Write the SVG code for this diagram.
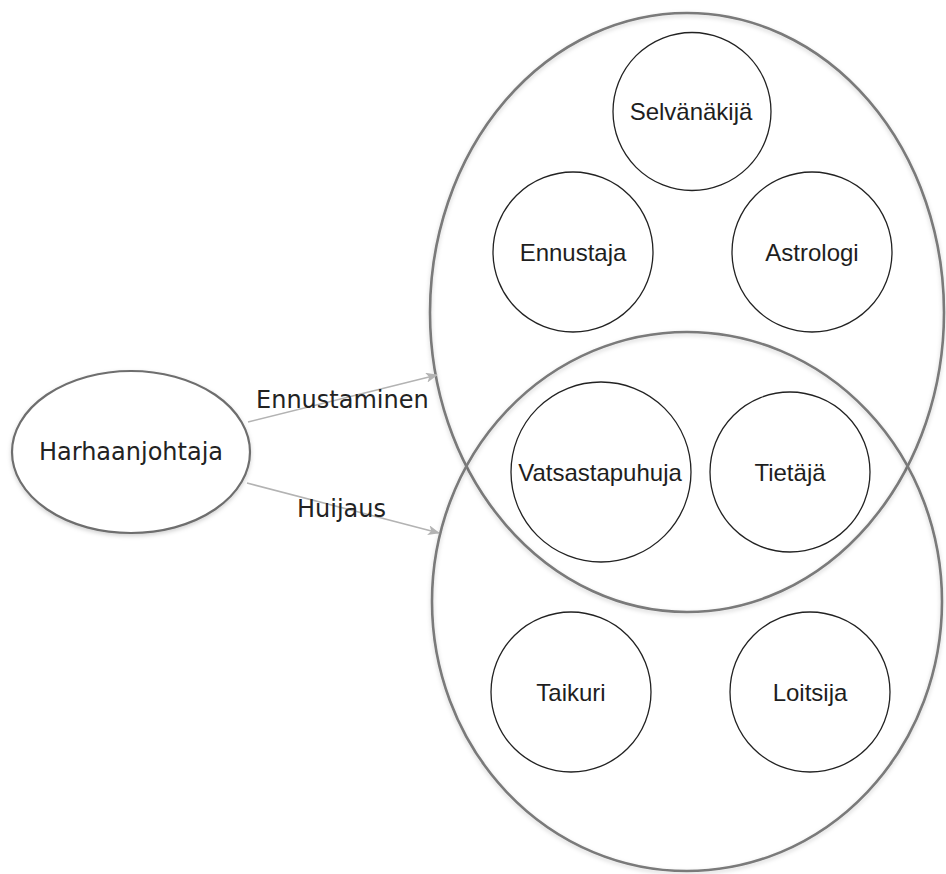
<svg xmlns="http://www.w3.org/2000/svg" width="946" height="874" viewBox="0 0 946 874">
<defs>
<filter id="sh" x="-10%" y="-10%" width="120%" height="120%">
<feDropShadow dx="0" dy="2" stdDeviation="2" flood-color="#000" flood-opacity="0.18"/>
</filter>
<marker id="arr" viewBox="0 0 12 10" refX="11" refY="5" markerWidth="12" markerHeight="10" markerUnits="userSpaceOnUse" orient="auto">
<path d="M0,0 L12,5 L0,10 L3,5 Z" fill="#b3b3b3"/>
</marker>
</defs>
<style>
.big{fill:none;stroke:#7a7a7a;stroke-width:2.6}
.src{fill:#fff;stroke:#6e6e6e;stroke-width:2.2}
.c{fill:none;stroke:#222;stroke-width:1.3}
.t1{font-family:"DejaVu Sans",Verdana,sans-serif;font-size:24px;fill:#222}
.t2{font-family:"Liberation Sans",Arial,sans-serif;font-size:24px;fill:#1e1e1e;text-anchor:middle}
.e{fill:none;stroke:#b3b3b3;stroke-width:1.6}
</style>
<rect width="946" height="874" fill="#fff"/>
<g id="group-ennustaminen">
<ellipse class="big" cx="687" cy="312.5" rx="257" ry="299.5" filter="url(#sh)"/>
</g>
<g id="group-huijaus">
<ellipse class="big" cx="687" cy="601.5" rx="255" ry="269.5" filter="url(#sh)"/>
</g>
<g id="harhaanjohtaja">
<ellipse class="src" cx="131" cy="452" rx="119" ry="81" filter="url(#sh)"/>
<text class="t1" x="131" y="460" text-anchor="middle">Harhaanjohtaja</text>
</g>
<g id="selvanakija">
<circle class="c" cx="692" cy="111.5" r="79"/>
<text class="t2" x="691" y="120">Selvänäkijä</text>
</g>
<g id="ennustaja">
<circle class="c" cx="573" cy="252" r="80"/>
<text class="t2" x="573" y="260.5">Ennustaja</text>
</g>
<g id="astrologi">
<circle class="c" cx="812" cy="252" r="80"/>
<text class="t2" x="812" y="260.5">Astrologi</text>
</g>
<g id="vatsastapuhuja">
<circle class="c" cx="601" cy="472" r="90"/>
<text class="t2" x="600" y="480.5">Vatsastapuhuja</text>
</g>
<g id="tietaja">
<circle class="c" cx="790" cy="472" r="80"/>
<text class="t2" x="790" y="480.5">Tietäjä</text>
</g>
<g id="taikuri">
<circle class="c" cx="571" cy="692" r="80"/>
<text class="t2" x="571" y="700.5">Taikuri</text>
</g>
<g id="loitsija">
<circle class="c" cx="810" cy="692" r="80"/>
<text class="t2" x="810" y="700.5">Loitsija</text>
</g>
<g id="connectors">
<path class="e" d="M248,422 L437,375" marker-end="url(#arr)"/>
<path class="e" d="M247,483 L439,533" marker-end="url(#arr)"/>
<text class="t1" x="256" y="408">Ennustaminen</text>
<text class="t1" x="297" y="517">Huijaus</text>
</g>
</svg>
